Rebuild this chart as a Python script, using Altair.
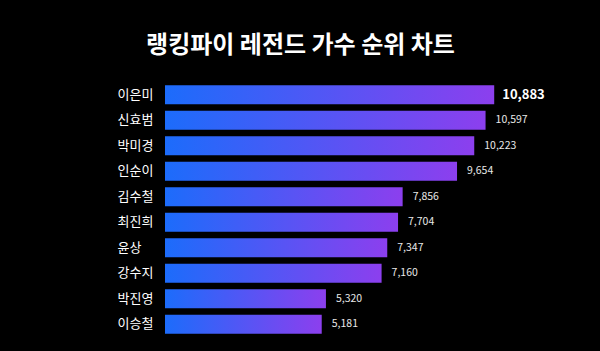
import altair as alt
import pandas as pd

names = ["이은미", "신효범", "박미경", "인순이", "김수철", "최진희", "윤상", "강수지", "박진영", "이승철"]
scores = [10883, 10597, 10223, 9654, 7856, 7704, 7347, 7160, 5320, 5181]
labels = ["10,883", "10,597", "10,223", "9,654", "7,856", "7,704", "7,347", "7,160", "5,320", "5,181"]
top_flag = [1, 0, 0, 0, 0, 0, 0, 0, 0, 0]

df = pd.DataFrame({"name": names, "score": scores, "label": labels, "top": top_flag})

FONT = "Noto Sans CJK KR"

y = alt.Y("name:N", sort=None,
          scale=alt.Scale(paddingInner=0.25, paddingOuter=0.125),
          axis=alt.Axis(title=None, domain=False, ticks=False, labelPadding=48, labelAlign="left",
                        labelColor="#ffffff", labelFontSize=13, labelFont=FONT))
x = alt.X("score:Q", scale=alt.Scale(domain=[0, 12000]), axis=None)

bars = alt.Chart(df).mark_bar(
    fill=alt.Gradient(gradient="linear",
                      stops=[alt.GradientStop(color="#1c6cfb", offset=0),
                             alt.GradientStop(color="#8c3fee", offset=1)],
                      x1=0, x2=1, y1=0, y2=0),
    cornerRadius=0
).encode(x=x, y=y)

text_other = alt.Chart(df[df["top"] == 0]).mark_text(
    align="left", baseline="middle", dx=10, fontSize=10.5, color="#e8e8e8", font=FONT
).encode(x=x, y=y, text="label:N")

text_top = alt.Chart(df[df["top"] == 1]).mark_text(
    align="left", baseline="middle", dx=8, fontSize=13, fontWeight="bold", color="#ffffff", font=FONT
).encode(x=x, y=y, text="label:N")

chart = (bars + text_other + text_top).properties(
    width=363, height=255,
    background="#000000",
    autosize=alt.AutoSizeParams(type="none"),
    padding={"left": 165, "top": 82, "right": 72, "bottom": 14},
    title=alt.TitleParams("랭킹파이 레전드 가수 순위 차트", font=FONT, fontSize=24, fontWeight="bold",
                          color="#ffffff", anchor="middle", dx=-46, offset=24)
).configure_view(stroke=None)

chart.save("out.html", embed_options={"renderer": "svg", "actions": False})
